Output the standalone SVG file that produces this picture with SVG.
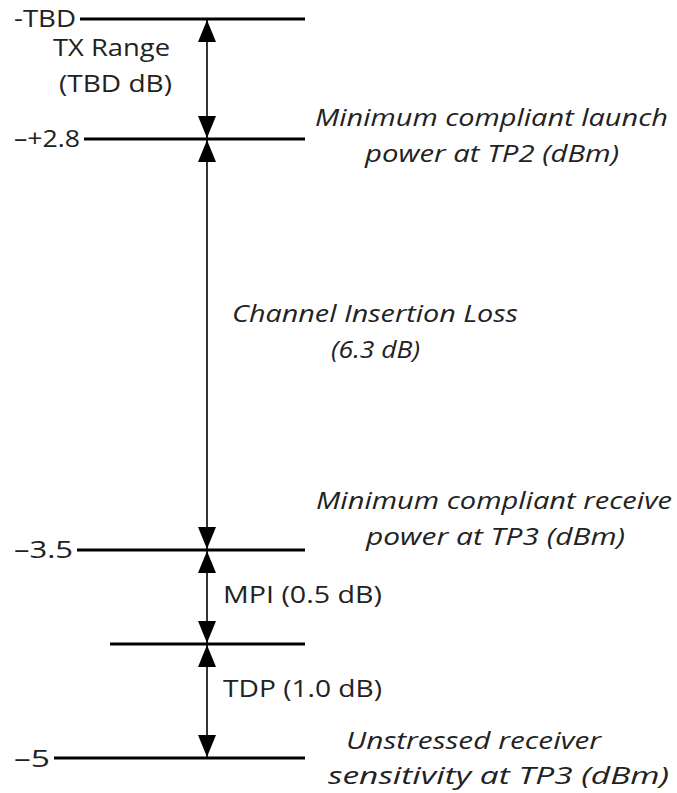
<svg xmlns="http://www.w3.org/2000/svg" width="677" height="793" viewBox="0 0 677 793">
<style>
text{font-family:"Open Sans","Liberation Sans",sans-serif;font-size:23px;fill:#222}
.i{font-style:italic}
.lvl{stroke:#000;stroke-width:3;fill:none}
.ar{stroke:#000;stroke-width:1.6;fill:none;marker-start:url(#ah);marker-end:url(#ah)}
</style>
<defs>
<marker id="ah" markerUnits="userSpaceOnUse" viewBox="0 0 22 18" refX="22" refY="9" markerWidth="22" markerHeight="18" orient="auto-start-reverse">
<path d="M0,0 L22,9 L0,18 Z" fill="#000"/>
</marker>
</defs>
<g id="levels">
<line class="lvl" x1="80" y1="19" x2="305" y2="19"/>
<line class="lvl" x1="84" y1="139" x2="305" y2="139"/>
<line class="lvl" x1="77" y1="550" x2="305" y2="550"/>
<line class="lvl" x1="110" y1="644" x2="305" y2="644"/>
<line class="lvl" x1="54" y1="758" x2="305" y2="758"/>
</g>
<g id="connectors">
<line class="ar" x1="207" y1="20" x2="207" y2="138"/>
<line class="ar" x1="207" y1="140" x2="207" y2="549"/>
<line class="ar" x1="207" y1="551" x2="207" y2="643"/>
<line class="ar" x1="207" y1="645" x2="207" y2="757"/>
</g>
<g id="labels-left">
<text x="14" y="27" textLength="62" lengthAdjust="spacingAndGlyphs">-TBD</text>
<text x="14" y="147" textLength="66" lengthAdjust="spacingAndGlyphs">–+2.8</text>
<text x="14" y="558" textLength="59" lengthAdjust="spacingAndGlyphs">–3.5</text>
<text x="14" y="767" textLength="36" lengthAdjust="spacingAndGlyphs">–5</text>
</g>
<g id="tx-range">
<text x="53" y="56" textLength="117" lengthAdjust="spacingAndGlyphs">TX Range</text>
<text x="59" y="92" textLength="113" lengthAdjust="spacingAndGlyphs">(TBD dB)</text>
</g>
<g id="launch">
<text class="i" x="315" y="126" textLength="353" lengthAdjust="spacingAndGlyphs">Minimum compliant launch</text>
<text class="i" x="365" y="162" textLength="254" lengthAdjust="spacingAndGlyphs">power at TP2 (dBm)</text>
</g>
<g id="channel">
<text class="i" x="232" y="322" textLength="286" lengthAdjust="spacingAndGlyphs">Channel Insertion Loss</text>
<text class="i" x="331" y="358" textLength="89" lengthAdjust="spacingAndGlyphs">(6.3 dB)</text>
</g>
<g id="receive">
<text class="i" x="316" y="509" textLength="356" lengthAdjust="spacingAndGlyphs">Minimum compliant receive</text>
<text class="i" x="366" y="545" textLength="259" lengthAdjust="spacingAndGlyphs">power at TP3 (dBm)</text>
</g>
<g id="mpi"><text x="223" y="603" textLength="159" lengthAdjust="spacingAndGlyphs">MPI (0.5 dB)</text></g>
<g id="tdp"><text x="223" y="697" textLength="159" lengthAdjust="spacingAndGlyphs">TDP (1.0 dB)</text></g>
<g id="sensitivity">
<text class="i" x="346" y="749" textLength="255" lengthAdjust="spacingAndGlyphs">Unstressed receiver</text>
<text class="i" x="328" y="784" textLength="341" lengthAdjust="spacingAndGlyphs">sensitivity at TP3 (dBm)</text>
</g>
</svg>
